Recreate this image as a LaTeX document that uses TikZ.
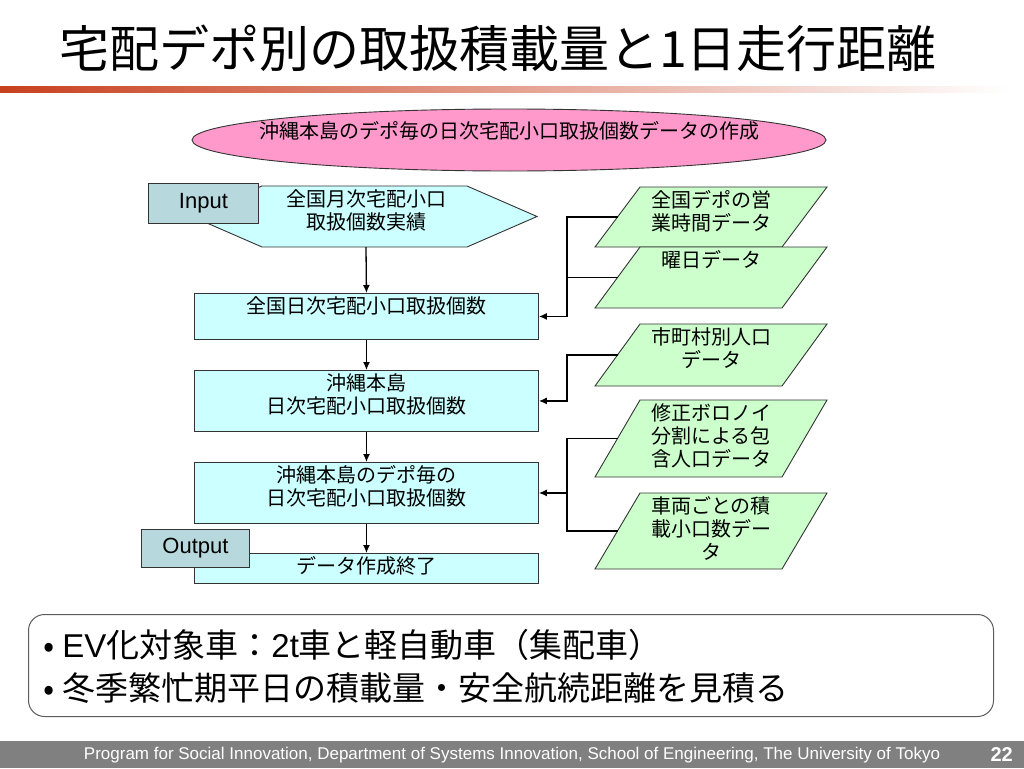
\documentclass[tikz,border=0pt]{standalone}
\usepackage{fontspec}
\setmainfont{Liberation Sans}
\newfontfamily\jp{Noto Sans CJK JP}
\usetikzlibrary{shapes.geometric,arrows.meta}

\definecolor{boxcyan}{HTML}{CCFFFF}
\definecolor{boxgreen}{HTML}{CCFFCC}
\definecolor{ellpink}{HTML}{FF99CC}
\definecolor{iobox}{HTML}{B7D9DE}
\definecolor{footgray}{HTML}{808080}
\definecolor{barred}{HTML}{C8401E}
\definecolor{edgecol}{HTML}{333333}

\begin{document}
\begin{tikzpicture}[x=1pt,y=-1pt,
  shp/.style={draw=edgecol, line width=0.9pt},
  flowbox/.style={shp, fill=boxcyan, rectangle, minimum width=344pt, inner sep=0pt, anchor=north west},
  parashape/.style={shp, fill=boxgreen},
  iostyle/.style={shp, fill=iobox, rectangle, inner sep=0pt, anchor=north west, font=\fontsize{22}{24}\selectfont},
  txt/.style={font=\jp\fontsize{20}{23}\selectfont, align=center, inner sep=3pt, anchor=north},
  line/.style={draw=black, line width=1.3pt},
  conn/.style={line, -{Latex[length=8pt,width=7pt]}},
  bullettxt/.style={anchor=west, inner sep=0pt, font=\jp\fontsize{33}{38}\selectfont},
]
\useasboundingbox (0,0) rectangle (1024,768);
\fill[white] (0,0) rectangle (1024,768);

% title and bar
\node[font=\jp\fontsize{50}{58}\selectfont, inner sep=0pt] (title) at (498,48) {宅配デポ別の取扱積載量と1日走行距離};
\shade[left color=barred, right color=white] (0,86) rectangle (1010,92);

% top ellipse
\node[shp, ellipse, fill=ellpink, minimum width=634pt, minimum height=62pt, inner sep=0pt] (ell) at (509,140) {};
\node[txt] (ellt) at (509,118) {沖縄本島のデポ毎の日次宅配小口取扱個数データの作成};

% hexagon input
\draw[shp, fill=boxcyan] (192,216.5) -- (262,186) -- (467,186) -- (537,216.5) -- (467,247) -- (262,247) -- cycle;
\coordinate (hexs) at (366,247);
\node[txt] (hext) at (366,186) {全国月次宅配小口\\取扱個数実績};
\node[iostyle, minimum width=110pt, minimum height=40pt] (inbox) at (148,183) {Input};

% flow boxes
\node[flowbox, minimum height=46pt] (b1) at (194,293) {};
\node[txt] (b1t) at (b1.north) {全国日次宅配小口取扱個数};
\node[flowbox, minimum height=61pt] (b2) at (194,370) {};
\node[txt] (b2t) at (b2.north) {沖縄本島\\日次宅配小口取扱個数};
\node[flowbox, minimum height=61pt] (b3) at (194,462) {};
\node[txt] (b3t) at (b3.north) {沖縄本島のデポ毎の\\日次宅配小口取扱個数};
\node[flowbox, minimum height=30pt] (b4) at (194,553) {};
\node[txt] (b4t) at (b4.north) {データ作成終了};
\node[iostyle, minimum width=108pt, minimum height=38pt] (outbox) at (141,529) {Output};

% parallelograms
\draw[parashape] (595,247) -- (640,187) -- (827,187) -- (782,247) -- cycle;
\coordinate (p1w) at (617.5,217);
\node[txt] (p1t) at (711,187) {全国デポの営\\業時間データ};
\draw[parashape] (595,308) -- (640,247) -- (827,247) -- (782,308) -- cycle;
\coordinate (p2w) at (617.5,277.5);
\node[txt] (p2t) at (711,247) {曜日データ};
\draw[parashape] (595,386) -- (640,324) -- (827,324) -- (782,386) -- cycle;
\coordinate (p3w) at (617.5,355);
\node[txt] (p3t) at (711,324) {市町村別人口\\データ};
\draw[parashape] (595,477) -- (640,400) -- (827,400) -- (782,477) -- cycle;
\coordinate (p4w) at (617.5,438.5);
\node[txt] (p4t) at (711,400) {修正ボロノイ\\分割による包\\含人口データ};
\draw[parashape] (595,569) -- (640,493) -- (827,493) -- (782,569) -- cycle;
\coordinate (p5w) at (617.5,531);
\node[txt] (p5t) at (711,493) {車両ごとの積\\載小口数デー\\タ};

% vertical flow connectors
\draw[conn] (hexs) -- (b1.north);
\draw[conn] (b1.south) -- (b2.north);
\draw[conn] (b2.south) -- (b3.north);
\draw[conn] (b3.south) -- (b4.north);

% right side connectors
\coordinate (bus) at (567,0);
\draw[conn] (p1w) -- (p1w -| bus) |- (b1.east);
\draw[line] (p2w) -- (p2w -| bus);
\draw[conn] (p3w) -- (p3w -| bus) |- (b2.east);
\draw[line] (p4w) -- (p4w -| bus) -- (p5w -| bus) -- (p5w);
\draw[conn] (bus |- b3.east) -- (b3.east);

% note box
\node[draw=edgecol!80, line width=1pt, rounded corners=16pt, minimum width=965pt, minimum height=102pt, inner sep=0pt, anchor=north west] (note) at (28,614) {};
\node[bullettxt] (l1) at (43,645) {•\hspace{8pt}{\rmfamily EV}化対象車：{\rmfamily 2t}車と軽自動車（集配車）};
\node[bullettxt] (l2) at (43,688) {•\hspace{8pt}冬季繁忙期平日の積載量・安全航続距離を見積る};

% footer
\fill[footgray] (0,741) rectangle (1024,768);
\node[text=white, inner sep=0pt, font=\fontsize{17}{19}\selectfont] (foot) at (512,755) {Program for Social Innovation, Department of Systems Innovation, School of Engineering, The University of Tokyo};
\node[text=white, inner sep=0pt, anchor=east, font=\bfseries\fontsize{20}{22}\selectfont] (pg) at (1013,755) {22};
\end{tikzpicture}
\end{document}
